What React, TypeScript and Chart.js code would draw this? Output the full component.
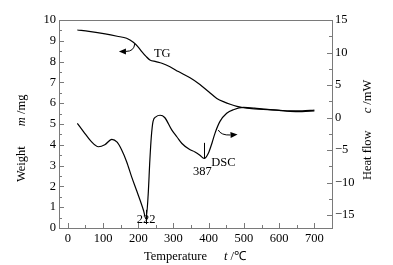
import React, { useEffect, useRef } from 'react';
import { Chart, registerables } from 'chart.js';

Chart.register(...registerables);

// TG curve: temperature (°C) and mass (mg)
const tgTemp = [27, 60, 106, 140, 167, 186, 200, 210, 222, 233, 250, 267, 290, 314, 347, 375, 400, 423, 445, 461, 480, 499, 530, 555, 600, 631, 665, 700];
const tgMass = [9.52, 9.45, 9.33, 9.22, 9.12, 8.93, 8.7, 8.48, 8.25, 8.08, 8.0, 7.92, 7.75, 7.52, 7.22, 6.9, 6.55, 6.23, 6.05, 5.95, 5.85, 5.78, 5.73, 5.7, 5.66, 5.63, 5.63, 5.67];

// DSC curve: temperature (°C) and heat flow (mW)
const dscTemp = [27, 45, 65, 87, 105, 125, 140, 153, 167, 181, 195, 205, 215, 222, 228, 233, 237, 242, 250, 262, 275, 295, 310, 324, 345, 361, 375, 387, 399, 410, 418, 432, 451, 470, 499, 530, 555, 600, 631, 665, 700];
const dscHeat = [-0.9, -2.2, -3.6, -4.5, -4.2, -3.35, -3.8, -5.0, -6.8, -9.1, -11.2, -12.7, -14.3, -15.6, -12, -6.5, -3, -0.6, 0.1, 0.35, 0.0, -1.9, -3.0, -4.0, -4.9, -5.3, -5.8, -6.3, -5.5, -3.8, -2.4, -0.6, 0.65, 1.2, 1.55, 1.45, 1.3, 1.1, 0.95, 0.9, 1.0];

// Axis tick labels
const xTickValues = [0, 100, 200, 300, 400, 500, 600, 700];
const massTickValues = [0, 1, 2, 3, 4, 5, 6, 7, 8, 9, 10];
const heatTickValues = [-15, -10, -5, 0, 5, 10, 15];

// Peak labels
const peakTemps = [222, 387];

const FONT = '"Liberation Serif", "Times New Roman", serif';
const AXIS_COLOR = '#7a7a7a';

type Part = { t: string; italic?: boolean; gap?: number };

function drawParts(ctx: CanvasRenderingContext2D, parts: Part[], x: number, y: number, rotate: boolean) {
  ctx.save();
  ctx.translate(x, y);
  if (rotate) ctx.rotate(-Math.PI / 2);
  ctx.textBaseline = 'middle';
  ctx.textAlign = 'left';
  ctx.fillStyle = '#000';
  let pos = 0;
  for (const p of parts) {
    if (p.gap) { pos += p.gap; continue; }
    ctx.font = (p.italic ? 'italic ' : '') + '12.5px ' + FONT;
    ctx.fillText(p.t, pos, 0);
    pos += ctx.measureText(p.t).width;
  }
  ctx.restore();
}

const decorPlugin = {
  id: 'decor',
  afterDraw(chart: any) {
    const ctx: CanvasRenderingContext2D = chart.ctx;
    const { left, right, top, bottom } = chart.chartArea;
    const xs = chart.scales.x;
    const ys = chart.scales.y;
    const y1 = chart.scales.y1;
    ctx.save();
    // frame
    ctx.strokeStyle = AXIS_COLOR;
    ctx.lineWidth = 1;
    ctx.strokeRect(Math.round(left) + 0.5, Math.round(top) + 0.5, Math.round(right - left), Math.round(bottom - top));
    // ticks (inward)
    ctx.beginPath();
    for (let v = 0; v <= 750; v += 50) {
      const px = Math.round(xs.getPixelForValue(v)) + 0.5;
      const len = v % 100 === 0 ? 5 : 3;
      ctx.moveTo(px, bottom);
      ctx.lineTo(px, bottom - len);
    }
    for (let v = 0; v <= 10; v += 0.5) {
      const py = Math.round(ys.getPixelForValue(v)) + 0.5;
      const len = Number.isInteger(v) ? 5 : 3;
      ctx.moveTo(left, py);
      ctx.lineTo(left + len, py);
    }
    for (let v = -15; v <= 15; v += 2.5) {
      const py = Math.round(y1.getPixelForValue(v)) + 0.5;
      const len = v % 5 === 0 ? 5 : 3;
      ctx.moveTo(right, py);
      ctx.lineTo(right - len, py);
    }
    ctx.stroke();

    // axis titles
    drawParts(ctx, [{ t: 'Weight' }, { t: '', gap: 20 }, { t: 'm', italic: true }, { t: ' /mg' }], 22, 182, true);
    drawParts(ctx, [{ t: 'Heat flow' }, { t: '', gap: 17 }, { t: 'c', italic: true }, { t: ' /mW' }], 368, 180, true);
    drawParts(ctx, [{ t: 'Temperature' }, { t: '', gap: 17 }, { t: 't', italic: true }, { t: ' /\u2103' }], 144, 257, false);

    // annotations
    ctx.fillStyle = '#000';
    ctx.strokeStyle = '#000';
    ctx.font = '12.5px ' + FONT;
    ctx.textAlign = 'center';
    ctx.textBaseline = 'middle';
    ctx.fillText('TG', xs.getPixelForValue(268), ys.getPixelForValue(8.39));
    ctx.fillText('DSC', xs.getPixelForValue(442), y1.getPixelForValue(-7.0));
    ctx.fillText(String(peakTemps[0]), xs.getPixelForValue(222), y1.getPixelForValue(-15.7));
    ctx.fillText(String(peakTemps[1]), xs.getPixelForValue(382), y1.getPixelForValue(-8.4));

    // peak marker lines
    ctx.lineWidth = 1;
    ctx.beginPath();
    const p1 = Math.round(xs.getPixelForValue(peakTemps[0])) + 0.5;
    ctx.moveTo(p1, y1.getPixelForValue(-14.2));
    ctx.lineTo(p1, y1.getPixelForValue(-16.4));
    const p2 = Math.round(xs.getPixelForValue(peakTemps[1])) + 0.5;
    ctx.moveTo(p2, y1.getPixelForValue(-3.9));
    ctx.lineTo(p2, y1.getPixelForValue(-6.3));
    ctx.stroke();

    // arrows
    const arrow = (sx: number, sy: number, cx: number, cy: number, ex: number, ey: number) => {
      ctx.beginPath();
      ctx.moveTo(sx, sy);
      ctx.quadraticCurveTo(cx, cy, ex, ey);
      ctx.stroke();
      const ang = Math.atan2(ey - cy, ex - cx);
      const L = 7, W = 3;
      const tx = ex + Math.cos(ang) * L, ty = ey + Math.sin(ang) * L;
      ctx.beginPath();
      ctx.moveTo(tx, ty);
      ctx.lineTo(ex - Math.sin(ang) * W, ey + Math.cos(ang) * W);
      ctx.lineTo(ex + Math.sin(ang) * W, ey - Math.cos(ang) * W);
      ctx.closePath();
      ctx.fill();
    };
    arrow(
      xs.getPixelForValue(190), ys.getPixelForValue(8.85),
      xs.getPixelForValue(188), ys.getPixelForValue(8.49),
      xs.getPixelForValue(165), ys.getPixelForValue(8.49)
    );
    arrow(
      xs.getPixelForValue(427), y1.getPixelForValue(-1.92),
      xs.getPixelForValue(435), y1.getPixelForValue(-2.77),
      xs.getPixelForValue(462), y1.getPixelForValue(-2.69)
    );
    ctx.restore();
  },
};

export default function App() {
  const ref = useRef<HTMLCanvasElement | null>(null);
  useEffect(() => {
    if (!ref.current) return;
    const tickFont = { family: FONT, size: 12.5 };
    const noGrid = { display: false, drawTicks: false, tickLength: 0 };
    const chart = new Chart(ref.current, {
      type: 'line',
      data: {
        datasets: [
          {
            label: 'TG',
            data: tgTemp.map((t, i) => ({ x: t, y: tgMass[i] })),
            yAxisID: 'y',
            borderColor: '#000',
            borderWidth: 1.2,
            pointRadius: 0,
            cubicInterpolationMode: 'monotone',
            fill: false,
          },
          {
            label: 'DSC',
            data: dscTemp.map((t, i) => ({ x: t, y: dscHeat[i] })),
            yAxisID: 'y1',
            borderColor: '#000',
            borderWidth: 1.2,
            pointRadius: 0,
            cubicInterpolationMode: 'monotone',
            fill: false,
          },
        ],
      },
      options: {
        responsive: false,
        animation: false,
        devicePixelRatio: 1,
        layout: { padding: { top: 20, left: 0, right: 0, bottom: 0 } },
        plugins: { legend: { display: false }, tooltip: { enabled: false } },
        scales: {
          x: {
            type: 'linear',
            min: -25,
            max: 750,
            border: { display: false },
            grid: noGrid,
            afterBuildTicks: (s: any) => { s.ticks = xTickValues.map((v) => ({ value: v })); },
            afterFit: (s: any) => { s.height = 37; },
            ticks: { font: tickFont, color: '#000', padding: 3, maxRotation: 0, autoSkip: false },
          },
          y: {
            type: 'linear',
            position: 'left',
            min: 0,
            max: 10,
            border: { display: false },
            grid: noGrid,
            afterBuildTicks: (s: any) => { s.ticks = massTickValues.map((v) => ({ value: v })); },
            afterFit: (s: any) => { s.width = 59; },
            ticks: { font: tickFont, color: '#000', padding: 3, autoSkip: false },
          },
          y1: {
            type: 'linear',
            position: 'right',
            min: -17,
            max: 15,
            border: { display: false },
            grid: noGrid,
            afterBuildTicks: (s: any) => { s.ticks = heatTickValues.map((v) => ({ value: v })); },
            afterFit: (s: any) => { s.width = 61; },
            ticks: {
              font: tickFont,
              color: '#000',
              padding: 3,
              autoSkip: false,
              callback: (v: any) => (Number(v) < 0 ? '\u2212' + Math.abs(Number(v)) : String(v)),
            },
          },
        },
      },
      plugins: [decorPlugin],
    } as any);
    return () => chart.destroy();
  }, []);
  return (
    <div style={{ position: 'fixed', left: 0, top: 0, width: 393, height: 265, background: '#fff' }}>
      <canvas ref={ref} width={393} height={265} style={{ width: 393, height: 265, display: 'block' }} />
    </div>
  );
}
